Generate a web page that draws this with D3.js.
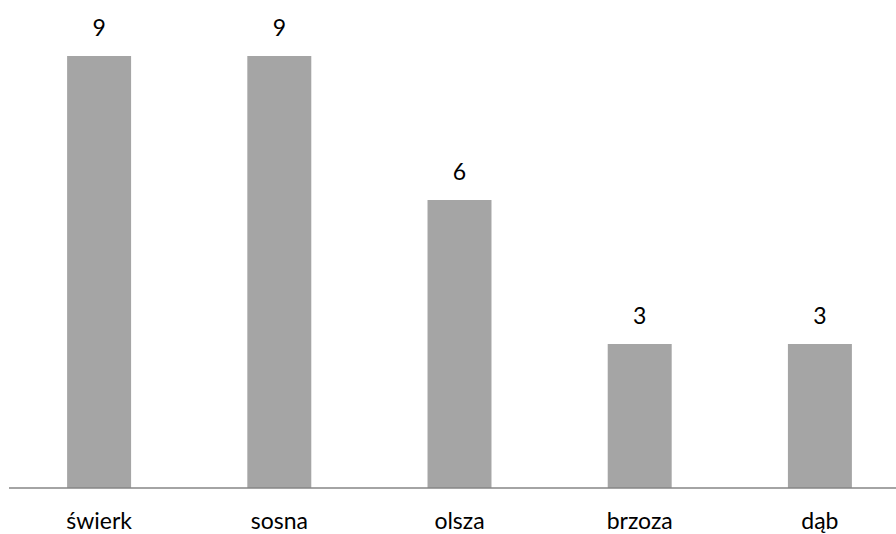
<!DOCTYPE html>
<html><head><meta charset="utf-8">
<script src="https://cdn.jsdelivr.net/npm/d3@7"></script>
<style>body{margin:0;background:#fff}svg{display:block}</style>
</head><body>
<script>
const categories = ["świerk", "sosna", "olsza", "brzoza", "dąb"];
const values = [9, 9, 6, 3, 3];

const W = 896, H = 534;
const svg = d3.select("body").append("svg").attr("width", W).attr("height", H);
const x = d3.scaleBand().domain(categories).range([9, 910]).paddingInner(0.645).paddingOuter(0.3225);
const y = d3.scaleLinear().domain([0, 9]).range([488, 56]);

svg.selectAll("rect.bar").data(values).enter().append("rect")
  .attr("class", "bar")
  .attr("x", (d, i) => x(categories[i]))
  .attr("y", d => y(d))
  .attr("width", x.bandwidth())
  .attr("height", d => y(0) - y(d))
  .attr("fill", "#a5a5a5");

svg.selectAll("text.val").data(values).enter().append("text")
  .attr("class", "val")
  .attr("x", (d, i) => x(categories[i]) + x.bandwidth() / 2)
  .attr("y", d => y(d) - 20)
  .attr("text-anchor", "middle")
  .attr("font-family", "Lato, 'Open Sans', sans-serif")
  .attr("font-size", 23)
  .attr("fill", "#000")
  .text(d => d);

const axis = d3.axisBottom(x).tickSize(0).tickPadding(0);
const g = svg.append("g").attr("transform", `translate(0,${y(0)})`).call(axis);
g.select(".domain").attr("d", `M9,0H896`).attr("stroke", "#868686").attr("stroke-width", 1.5);
g.selectAll(".tick text")
  .attr("font-family", "Lato, 'Open Sans', sans-serif")
  .attr("font-size", 23)
  .attr("fill", "#000")
  .attr("dy", null)
  .attr("y", 41);
</script>
</body></html>
